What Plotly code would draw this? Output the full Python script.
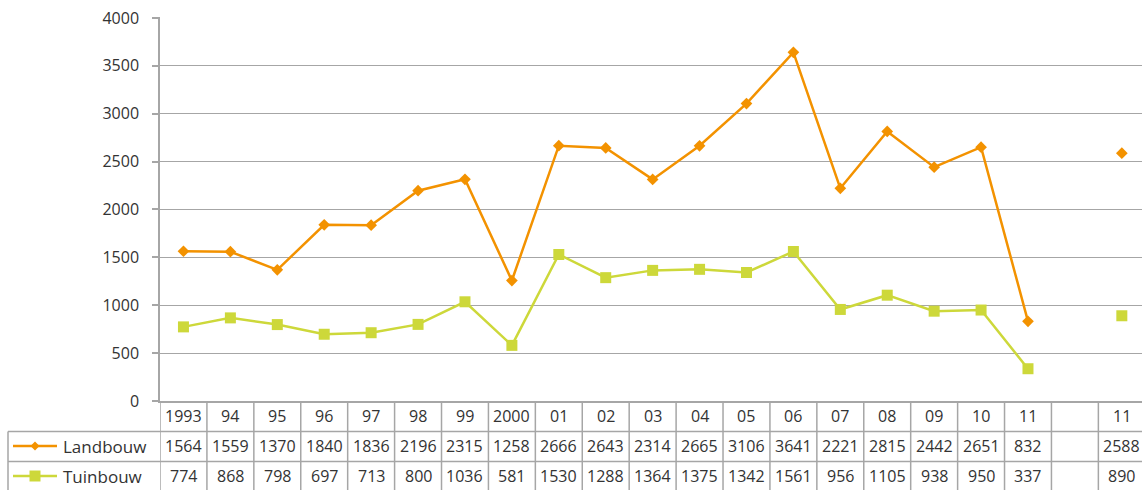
import plotly.graph_objects as go

categories = ["1993", "94", "95", "96", "97", "98", "99", "2000", "01", "02", "03",
              "04", "05", "06", "07", "08", "09", "10", "11", "", "11"]
landbouw = [1564, 1559, 1370, 1840, 1836, 2196, 2315, 1258, 2666, 2643, 2314,
            2665, 3106, 3641, 2221, 2815, 2442, 2651, 832, None, 2588]
tuinbouw = [774, 868, 798, 697, 713, 800, 1036, 581, 1530, 1288, 1364,
            1375, 1342, 1561, 956, 1105, 938, 950, 337, None, 890]
y_ticks = [0, 500, 1000, 1500, 2000, 2500, 3000, 3500, 4000]
series_names = ["Landbouw", "Tuinbouw"]

ORANGE = "#F39200"
GREEN = "#CDD83A"
GRID = "#A6A6A6"
TEXT = "#333333"
FONT = "Open Sans"

# body margin removed via post_script, so design directly in window pixels
WIN_W, WIN_H = 1142, 490
W, H = WIN_W, WIN_H
PL, PR, PT, PB = 160, 1142, 17, 401  # plot area in window pixels
L, T = PL, PT
R, B = WIN_W - PR, WIN_H - PB
pw, ph = PR - PL, PB - PT

def px(xp):
    return (xp - PL) / pw

def py(yp):
    return (PB - yp) / ph

xs = list(range(len(categories)))

fig = go.Figure()
fig.add_trace(go.Scatter(x=xs, y=landbouw, mode="lines+markers", name=series_names[0],
                         line=dict(color=ORANGE, width=2.5),
                         marker=dict(symbol="diamond", size=9, color=ORANGE),
                         connectgaps=False))
fig.add_trace(go.Scatter(x=xs, y=tuinbouw, mode="lines+markers", name=series_names[1],
                         line=dict(color=GREEN, width=2.5),
                         marker=dict(symbol="square", size=11, color=GREEN),
                         connectgaps=False))

shapes = []
annotations = []
row_top = [401, 431.5, 461.5]
row_bottom = 492
for yy in row_top[1:]:
    shapes.append(dict(type="line", xref="paper", yref="paper",
                       x0=px(8), x1=px(WIN_W + 5), y0=py(yy), y1=py(yy),
                       line=dict(color=GRID, width=1.5)))
shapes.append(dict(type="line", xref="paper", yref="paper",
                   x0=px(8), x1=px(8), y0=py(row_top[1]), y1=py(row_bottom),
                   line=dict(color=GRID, width=1.5)))
for i in range(len(categories) + 1):
    shapes.append(dict(type="line", xref="x", yref="paper",
                       x0=i - 0.5, x1=i - 0.5, y0=py(401), y1=py(row_bottom),
                       line=dict(color=GRID, width=1.5)))

row_centers = [416, 446, 476]
for i, c in enumerate(categories):
    annotations.append(dict(x=i, y=py(row_centers[0]), xref="x", yref="paper",
                            text=c, showarrow=False, xanchor="center", yanchor="middle",
                            font=dict(family=FONT, size=16, color=TEXT)))
    for r, vals in ((1, landbouw), (2, tuinbouw)):
        v = vals[i]
        annotations.append(dict(x=i, y=py(row_centers[r]), xref="x", yref="paper",
                                text="" if v is None else str(v), showarrow=False,
                                xanchor="center", yanchor="middle",
                                font=dict(family=FONT, size=16, color=TEXT)))

for r, (name, col) in enumerate(zip(series_names, [ORANGE, GREEN]), start=1):
    yc = row_centers[r]
    shapes.append(dict(type="line", xref="paper", yref="paper",
                       x0=px(13), x1=px(57), y0=py(yc), y1=py(yc),
                       line=dict(color=col, width=2.5)))
    if r == 1:
        d = 4.5
        path = (f"M {px(35)},{py(yc - d)} L {px(35 + d)},{py(yc)} "
                f"L {px(35)},{py(yc + d)} L {px(35 - d)},{py(yc)} Z")
        shapes.append(dict(type="path", xref="paper", yref="paper", path=path,
                           fillcolor=col, line=dict(color=col, width=0)))
    else:
        d = 5.5
        shapes.append(dict(type="rect", xref="paper", yref="paper",
                           x0=px(35 - d), x1=px(35 + d), y0=py(yc + d), y1=py(yc - d),
                           fillcolor=col, line=dict(color=col, width=0)))
    annotations.append(dict(x=px(61), y=py(yc), xref="paper", yref="paper",
                            text=name, showarrow=False, xanchor="left", yanchor="middle",
                            font=dict(family=FONT, size=17, color=TEXT)))

fig.update_layout(
    width=W, height=H,
    margin=dict(l=L, r=R, t=T, b=B, pad=0),
    paper_bgcolor="white", plot_bgcolor="white",
    showlegend=False,
    font=dict(family=FONT, size=16, color=TEXT),
    xaxis=dict(range=[-0.5, 20.43], showticklabels=False, showgrid=False,
               zeroline=False, showline=True, linecolor=GRID, linewidth=1.5, ticks=""),
    yaxis=dict(range=[0, 4010], tickmode="array", tickvals=y_ticks,
               showgrid=True, gridcolor=GRID, gridwidth=1,
               zeroline=False, showline=True, linecolor=GRID, linewidth=1.5,
               ticks="outside", ticklen=6, tickcolor=GRID, tickwidth=1.5,
               ticklabeloverflow="allow",
               tickfont=dict(family=FONT, size=16, color=TEXT), ticklabelstandoff=10),
    shapes=shapes, annotations=annotations,
)

fig.write_html("out.html", config={"displayModeBar": False},
               post_script="document.body.style.margin='0px';document.body.style.overflow='hidden';")
